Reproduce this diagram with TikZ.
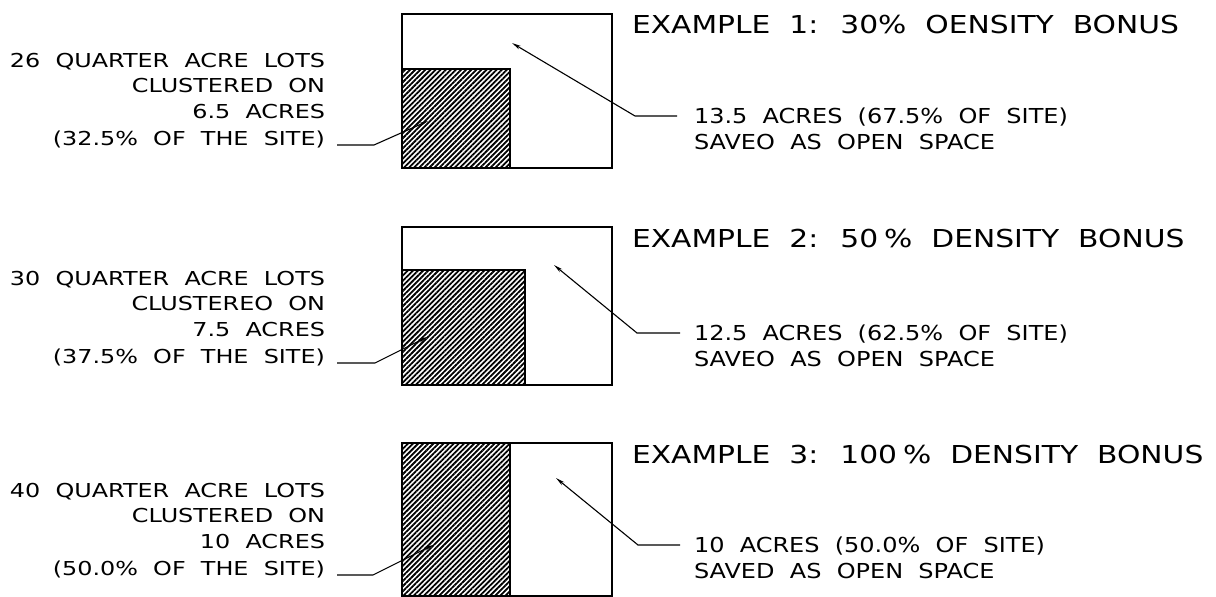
\documentclass[tikz,border=0pt]{standalone}
\usepackage{fontspec}
\setmainfont{DejaVu Sans}[WordSpace=2]
\usetikzlibrary{arrows.meta,patterns.meta}
\newsavebox\calbox
\newlength\calw
\newcommand\mkscale[3]{\sbox\calbox{\normalfont#2}\setlength\calw{\wd\calbox}\pgfmathsetmacro#1{#3/\the\calw}}
\begin{document}
\mkscale\sT{\fontsize{24.7}{30}\selectfont EXAMPLE 1: 30\% OENSITY BONUS}{547}%
\mkscale\sL{\fontsize{19.2}{24}\selectfont 26 QUARTER ACRE LOTS}{315}%
\mkscale\sR{\fontsize{20.6}{25}\selectfont 13.5 ACRES (67.5\% OF SITE)}{374}%
\begin{tikzpicture}[x=1pt,y=-1pt,
  every node/.style={inner sep=0pt,outer sep=0pt},
  site/.style={draw,line width=2pt},
  hatch/.style={draw,line width=2pt,pattern={Lines[angle=45,distance=3.6pt,line width=1.8pt]}},
  leader/.style={line width=1.1pt,-{Stealth[length=9pt,width=3.8pt]}},
  ttl/.style={anchor=base west,font=\fontsize{24.7}{30}\selectfont},
  ltxt/.style={anchor=base east,font=\fontsize{19.2}{24}\selectfont},
  rtxt/.style={anchor=base west,font=\fontsize{20.6}{25}\selectfont}]
\useasboundingbox (0,0) rectangle (1216,597);

% ---------- Example 1 ----------
\draw[hatch] (402,69) rectangle (510,167.5);
\node[site,anchor=north west,minimum width=210pt,minimum height=154pt] (b1) at (402,13.5) {};
\node[ttl] (t1) at (632,33) {\scalebox{\sT}[1]{EXAMPLE 1: 30\% OENSITY BONUS}};
\node[ltxt] (l1a) at (325,67)  {\scalebox{\sL}[1]{26 QUARTER ACRE LOTS}};
\node[ltxt] (l1b) at (325,92)  {\scalebox{\sL}[1]{CLUSTERED ON}};
\node[ltxt] (l1c) at (325,118) {\scalebox{\sL}[1]{6.5 ACRES}};
\node[ltxt] (l1d) at (325,145) {\scalebox{\sL}[1]{(32.5\% OF THE SITE)}};
\node[rtxt] (r1a) at (694,123) {\scalebox{\sR}[1]{13.5 ACRES (67.5\% OF SITE)}};
\node[rtxt] (r1b) at (694,149) {\scalebox{\sR}[1]{SAVEO AS OPEN SPACE}};
\coordinate (p1s) at (337,145); \coordinate (p1k) at (374,145); \coordinate (p1t) at (428,121);
\coordinate (q1s) at (677,116); \coordinate (q1k) at (635,116); \coordinate (q1t) at (512,43);
\draw[leader] (p1s) -- (p1k) -- (p1t);
\draw[leader] (q1s) -- (q1k) -- (q1t);

% ---------- Example 2 ----------
\draw[hatch] (402,270) rectangle (525,384.5);
\node[site,anchor=north west,minimum width=210pt,minimum height=157.5pt] (b2) at (402,227) {};
\node[ttl] (t2) at (632,247) {\scalebox{\sT}[1]{EXAMPLE 2: 50\hspace{.2em}\% DENSITY BONUS}};
\node[ltxt] (l2a) at (325,285) {\scalebox{\sL}[1]{30 QUARTER ACRE LOTS}};
\node[ltxt] (l2b) at (325,310) {\scalebox{\sL}[1]{CLUSTEREO ON}};
\node[ltxt] (l2c) at (325,336) {\scalebox{\sL}[1]{7.5 ACRES}};
\node[ltxt] (l2d) at (325,363) {\scalebox{\sL}[1]{(37.5\% OF THE SITE)}};
\node[rtxt] (r2a) at (694,340) {\scalebox{\sR}[1]{12.5 ACRES (62.5\% OF SITE)}};
\node[rtxt] (r2b) at (694,366) {\scalebox{\sR}[1]{SAVEO AS OPEN SPACE}};
\coordinate (p2s) at (337,363); \coordinate (p2k) at (375,363); \coordinate (p2t) at (427,337);
\coordinate (q2s) at (680,333); \coordinate (q2k) at (637,333); \coordinate (q2t) at (554,265);
\draw[leader] (p2s) -- (p2k) -- (p2t);
\draw[leader] (q2s) -- (q2k) -- (q2t);

% ---------- Example 3 ----------
\draw[hatch] (402,443) rectangle (510,596);
\node[site,anchor=north west,minimum width=210pt,minimum height=153pt] (b3) at (402,443) {};
\node[ttl] (t3) at (632,463) {\scalebox{\sT}[1]{EXAMPLE 3: 100\hspace{.2em}\% DENSITY BONUS}};
\node[ltxt] (l3a) at (325,497) {\scalebox{\sL}[1]{40 QUARTER ACRE LOTS}};
\node[ltxt] (l3b) at (325,522) {\scalebox{\sL}[1]{CLUSTERED ON}};
\node[ltxt] (l3c) at (325,548) {\scalebox{\sL}[1]{10 ACRES}};
\node[ltxt] (l3d) at (325,575) {\scalebox{\sL}[1]{(50.0\% OF THE SITE)}};
\node[rtxt] (r3a) at (694,552) {\scalebox{\sR}[1]{10 ACRES (50.0\% OF SITE)}};
\node[rtxt] (r3b) at (694,578) {\scalebox{\sR}[1]{SAVED AS OPEN SPACE}};
\coordinate (p3s) at (337,575); \coordinate (p3k) at (373,575); \coordinate (p3t) at (433,545);
\coordinate (q3s) at (680,545); \coordinate (q3k) at (638,545); \coordinate (q3t) at (556,478);
\draw[leader] (p3s) -- (p3k) -- (p3t);
\draw[leader] (q3s) -- (q3k) -- (q3t);
\end{tikzpicture}
\end{document}
